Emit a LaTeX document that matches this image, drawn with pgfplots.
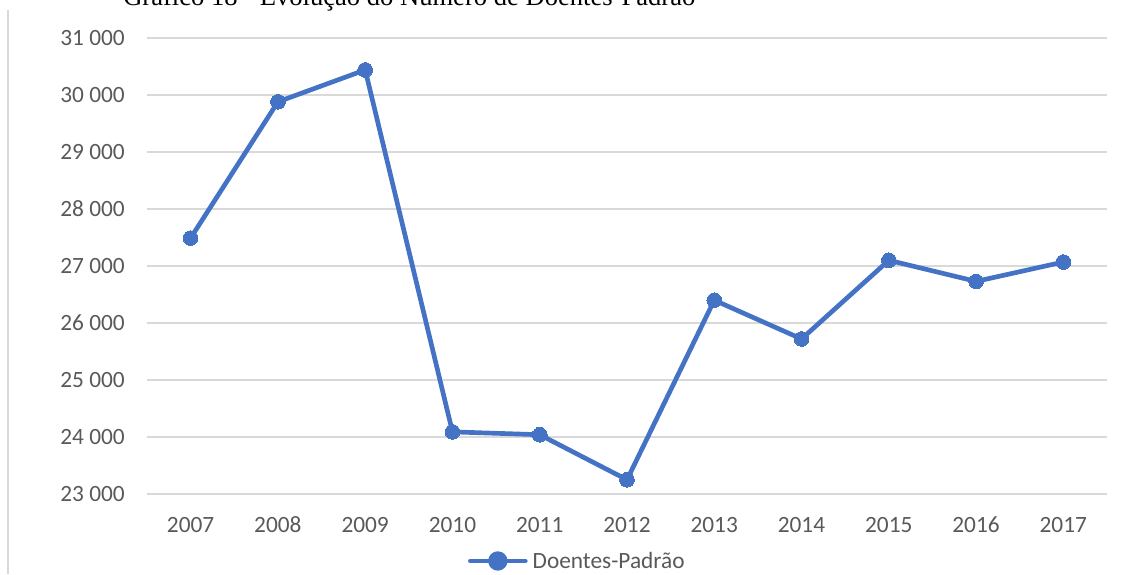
\documentclass[border=0pt]{standalone}
\usepackage{pgfplots}
\pgfplotsset{compat=1.18}
\usepackage{fontspec}
\setmainfont{Carlito}
\newfontfamily\titlefont{Liberation Serif}
\definecolor{serie}{HTML}{4472C4}
\definecolor{gridc}{HTML}{D9D9D9}
\definecolor{tickc}{HTML}{595959}
\begin{document}
\begin{tikzpicture}[x=0.75pt,y=0.75pt]
\useasboundingbox (0,0) rectangle (1130,574);
\draw[color=gridc, line width=1.1pt] (8,0) -- (8,564);
\node[anchor=base west, inner sep=0pt] at (123,568.5) {\titlefont\resizebox{429pt}{!}{Gráfico 18 - Evolução do Número de Doentes-Padrão}};
\begin{axis}[
  at={(110.25pt,60pt)}, anchor=south west,
  width=720pt, height=342pt, scale only axis,
  xmin=2006.5, xmax=2017.5,
  ymin=23000, ymax=31000,
  scaled y ticks=false, scaled x ticks=false,
  xtick={2007,...,2017},
  xticklabels={2007,2008,2009,2010,2011,2012,2013,2014,2015,2016,2017},
  ytick={23000,24000,...,31000},
  yticklabels={23 000,24 000,25 000,26 000,27 000,28 000,29 000,30 000,31 000},
  axis line style={draw=none},
  major tick length=0pt,
  ymajorgrids,
  grid style={color=gridc, line width=1.1pt},
  tick label style={font=\fontsize{17.5}{17.5}\selectfont, text=tickc, inner sep=0pt},
  yticklabel style={anchor=east, xshift=-16.5pt},
  xticklabel style={anchor=center, yshift=-23.25pt},
  clip=false,
  legend style={at={(0.3344,-0.1469)}, anchor=west, draw=none, fill=none, inner sep=0pt, outer sep=0pt,
    nodes={inner sep=0pt, font=\fontsize{17.5}{17.5}\selectfont, text=tickc}},
  legend image code/.code={
    \draw[color=serie, line width=3.5pt, line cap=round] (0pt,0pt) -- (41.25pt,0pt);
    \fill[color=serie] (20.6pt,0pt) circle (5.5pt);
    \path (45pt,0pt);
  },
]
\addplot[color=serie, line width=3.5pt, line join=round, mark=*, mark size=5.5pt, mark options={fill=serie, draw=serie, line width=0pt}]
coordinates {
(2007,27490) (2008,29880) (2009,30440) (2010,24090) (2011,24040) (2012,23250)
(2013,26400) (2014,25720) (2015,27100) (2016,26730) (2017,27070)
};
\addlegendentry{Doentes-Padrão}
\end{axis}
\end{tikzpicture}
\end{document}
